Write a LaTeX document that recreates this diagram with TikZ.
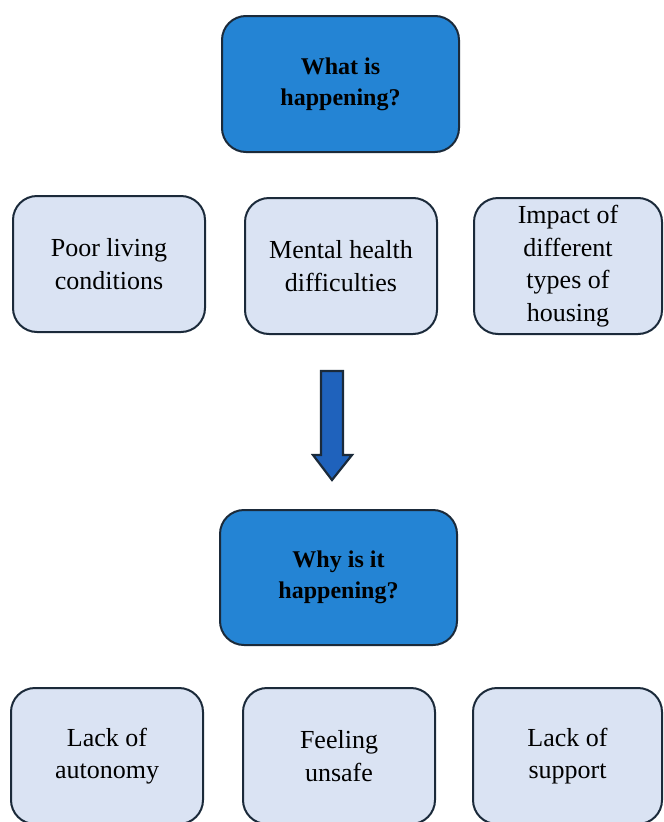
\documentclass[tikz,border=0pt]{standalone}
\usepackage{fontspec}
\setmainfont{Liberation Serif}
\definecolor{headfill}{HTML}{2484D4}
\definecolor{lightfill}{HTML}{DAE3F3}
\definecolor{edgecol}{HTML}{1B2A3A}
\definecolor{arrowfill}{HTML}{1F62BC}
\begin{document}
\begin{tikzpicture}[x=1pt,y=-1pt,
  headbox/.style={draw=edgecol, line width=2pt, fill=headfill, rounded corners=24pt,
    minimum width=237pt, minimum height=136pt, align=center,
    font=\fontsize{24}{31}\selectfont\bfseries, inner sep=0pt},
  itembox/.style={draw=edgecol, line width=2pt, fill=lightfill, rounded corners=24pt,
    minimum height=136pt, align=center,
    font=\fontsize{26}{32.5}\selectfont, inner sep=0pt}]
\useasboundingbox (0,0) rectangle (664,822);
\clip (0,0) rectangle (664,822);
\node[headbox] (q1) at (340.5,84) {What is\\happening?};
\node[itembox, minimum width=192pt] (a1) at (109,264) {Poor living\\conditions};
\node[itembox, minimum width=192pt] (a2) at (341,266) {Mental health\\difficulties};
\node[itembox, minimum width=188pt] (a3) at (568,266) {Impact of\\different\\types of\\housing};
\draw[draw=edgecol, line width=2.2pt, fill=arrowfill, line join=miter]
  (321,371) -- (343,371) -- (343,455) -- (352,455) -- (332,480) -- (313,455) -- (321,455) -- cycle;
\node[headbox, minimum height=135pt] (q2) at (338.5,577.5) {Why is it\\happening?};
\node[itembox, minimum width=192pt] (b1) at (107,756) {Lack of\\autonomy};
\node[itembox, minimum width=192pt] (b2) at (339,756) {Feeling\\unsafe};
\node[itembox, minimum width=189pt] (b3) at (567.5,756) {Lack of\\support};
\end{tikzpicture}
\end{document}
